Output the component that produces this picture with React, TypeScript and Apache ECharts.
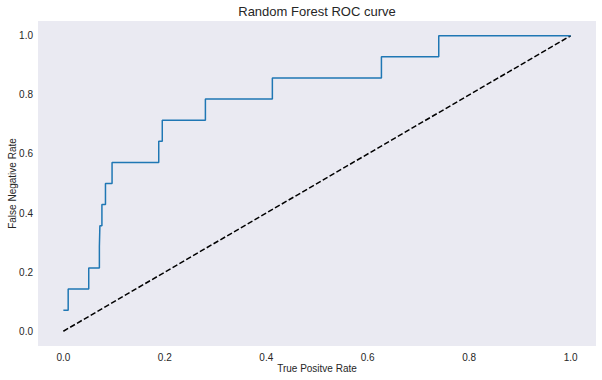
import React, { useEffect, useRef } from "react";
import * as echarts from "echarts";

const fpr = [0, 0.0095, 0.0095, 0.05, 0.05, 0.071, 0.071, 0.072, 0.072, 0.076, 0.076, 0.083, 0.083, 0.096, 0.096, 0.188, 0.188, 0.195, 0.195, 0.28, 0.28, 0.412, 0.412, 0.627, 0.627, 0.74, 0.74, 1.0];
const tpr = [0.071, 0.071, 0.143, 0.143, 0.214, 0.214, 0.286, 0.286, 0.357, 0.357, 0.429, 0.429, 0.5, 0.5, 0.571, 0.571, 0.643, 0.643, 0.714, 0.714, 0.786, 0.786, 0.857, 0.857, 0.929, 0.929, 1.0, 1.0];
const diagX = [0, 1];
const diagY = [0, 1];
const tickValues = [0, 0.2, 0.4, 0.6, 0.8, 1.0];

const FONT = "'Liberation Sans', Arial, sans-serif";
const TXT = "#262626";

export default function App() {
  const ref = useRef<HTMLDivElement>(null);
  useEffect(() => {
    if (!ref.current) return;
    const chart = echarts.init(ref.current, undefined, { renderer: "svg" });
    const axisCommon = {
      type: "value" as const,
      min: -0.05,
      max: 1.05,
      axisLine: { show: false },
      axisTick: { show: false },
      splitLine: { show: false },
      nameLocation: "middle" as const,
      nameTextStyle: { fontFamily: FONT, fontSize: 10, color: TXT },
      axisLabel: {
        customValues: tickValues,
        formatter: (v: number) => v.toFixed(1),
        fontFamily: FONT,
        fontSize: 10,
        color: TXT,
      },
    };
    chart.setOption({
      animation: false,
      backgroundColor: "#ffffff",
      title: {
        text: "Random Forest ROC curve",
        left: 317,
        textAlign: "center",
        top: 5,
        padding: 0,
        textStyle: { fontFamily: FONT, fontSize: 13, fontWeight: "normal", color: TXT },
      },
      grid: {
        left: 38,
        right: 6,
        top: 21,
        bottom: 34,
        containLabel: false,
        outerBoundsMode: "none",
        show: true,
        backgroundColor: "#EAEAF2",
        borderWidth: 0,
      },
      xAxis: {
        ...axisCommon,
        name: "True Positve Rate",
        nameGap: 17,
        nameMoveOverlap: false,
        axisLabel: { ...axisCommon.axisLabel, margin: 6 },
      },
      yAxis: {
        ...axisCommon,
        name: "False Negative Rate",
        nameGap: 21,
        nameMoveOverlap: false,
        axisLabel: { ...axisCommon.axisLabel, margin: 5 },
      },
      series: [
        {
          type: "line",
          data: diagX.map((x, i) => [x, diagY[i]]),
          showSymbol: false,
          lineStyle: { color: "#000000", width: 1.5, type: [5.5, 2.4] },
          silent: true,
        },
        {
          type: "line",
          data: fpr.map((x, i) => [x, tpr[i]]),
          showSymbol: false,
          lineStyle: { color: "#1f77b4", width: 1.5 },
          silent: true,
        },
      ],
    });
    return () => chart.dispose();
  }, []);
  return <div ref={ref} style={{ position: "fixed", left: 0, top: 0, width: 602, height: 380 }} />;
}
